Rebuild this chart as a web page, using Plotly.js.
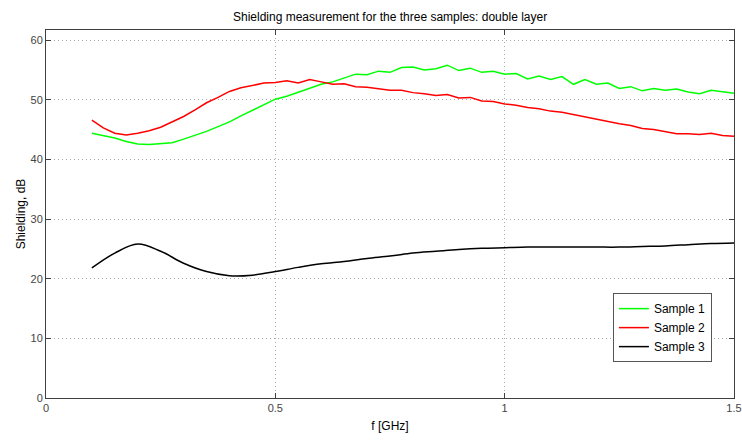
<!DOCTYPE html>
<html><head><meta charset="utf-8">
<script src="https://cdn.plot.ly/plotly-3.0.1.min.js"></script>
<style>html,body{margin:0;padding:0;background:#fff}#chart{width:742px;height:440px}</style>
</head><body><div id="chart"></div>
<script>
const freqFine = [0.100,0.125,0.150,0.175,0.200,0.225,0.250,0.275,0.300,0.325,0.350,0.375,0.400,0.425,0.450,0.475,0.500,0.525,0.550,0.575,0.600,0.625,0.650,0.675,0.700,0.725,0.750,0.775,0.800,0.825,0.850,0.875,0.900,0.925,0.950,0.975,1.000,1.025,1.050,1.075,1.100,1.125,1.150,1.175,1.200,1.225,1.250,1.275,1.300,1.325,1.350,1.375,1.400,1.425,1.450,1.475,1.500];
const sample1 = [44.4,44.0,43.6,43.0,42.6,42.5,42.6,42.8,43.4,44.0,44.7,45.5,46.3,47.3,48.2,49.2,50.1,50.6,51.3,52.0,52.6,53.0,53.7,54.3,54.2,54.8,54.6,55.4,55.5,55.0,55.2,55.8,54.9,55.3,54.6,54.8,54.3,54.4,53.5,54.0,53.4,53.9,52.6,53.4,52.6,52.8,51.9,52.2,51.5,51.9,51.6,51.8,51.3,51.0,51.6,51.4,51.1];
const sample2 = [46.6,45.3,44.4,44.1,44.4,44.8,45.4,46.3,47.2,48.3,49.5,50.4,51.4,52.0,52.4,52.8,52.9,53.2,52.8,53.4,53.0,52.6,52.7,52.2,52.1,51.8,51.6,51.6,51.2,51.0,50.7,50.9,50.3,50.4,49.8,49.7,49.3,49.1,48.7,48.5,48.1,47.9,47.5,47.2,46.7,46.3,46.0,45.7,45.2,45.0,44.7,44.3,44.3,44.2,44.4,44.0,43.9];
const freqCoarse = [0.10,0.15,0.20,0.25,0.30,0.35,0.40,0.45,0.50,0.55,0.60,0.65,0.70,0.75,0.80,0.85,0.90,0.95,1.00,1.05,1.10,1.15,1.20,1.25,1.30,1.35,1.40,1.45,1.50];
const sample3 = [21.8,24.3,25.8,24.6,22.6,21.2,20.5,20.6,21.2,21.9,22.5,22.9,23.4,23.8,24.3,24.6,24.9,25.1,25.2,25.3,25.3,25.3,25.3,25.3,25.4,25.5,25.7,25.9,26.0];
const seriesNames = ['Sample 1','Sample 2','Sample 3'];
const xTicks = [0,0.5,1,1.5];
const xTickText = ['0','0.5','1','1.5'];
const yTicks = [0,10,20,30,40,50,60];

const traces = [
  {x: freqFine, y: sample1, name: seriesNames[0], mode:'lines', line:{color:'#00ff00', width:1.5}},
  {x: freqFine, y: sample2, name: seriesNames[1], mode:'lines', line:{color:'#ff0000', width:1.5}},
  {x: freqCoarse, y: sample3, name: seriesNames[2], mode:'lines', line:{color:'#000000', width:1.5, shape:'spline'}}
];
const axisCommon = {
  showline:true, linecolor:'#404040', linewidth:1, mirror:'ticks',
  ticks:'inside', ticklen:5, tickcolor:'#404040',
  showgrid:true, gridcolor:'#a8a8a8', griddash:'1px,3px', gridwidth:1,
  zeroline:false, tickfont:{family:'Liberation Sans, Arial, sans-serif', size:11, color:'#444'}
};
const layout = {
  width:742, height:440,
  margin:{l:46, r:8, t:30, b:42},
  paper_bgcolor:'#fff', plot_bgcolor:'#fff',
  font:{family:'Liberation Sans, Arial, sans-serif', size:12, color:'#000'},
  title:{text:'Shielding measurement for the three samples: double layer', x:0.5257, xanchor:'center', y:0.962, yanchor:'middle', font:{size:12, color:'#000'}},
  xaxis:Object.assign({}, axisCommon, {range:[0,1.5], tickvals:xTicks, ticktext:xTickText,
    title:{text:'f [GHz]', standoff:8, font:{size:12, color:'#000'}}}),
  yaxis:Object.assign({}, axisCommon, {range:[0,61.7], tickvals:yTicks,
    title:{text:'Shielding, dB', standoff:2, font:{size:12, color:'#000'}}}),
  showlegend:true,
  legend:{x:0.824, y:0.285, xanchor:'left', yanchor:'top', bgcolor:'#fff', bordercolor:'#555', borderwidth:1,
    font:{size:12, color:'#000'}, tracegroupgap:0, itemwidth:30}
};
Plotly.newPlot('chart', traces, layout, {displayModeBar:false, staticPlot:true});
</script></body></html>
